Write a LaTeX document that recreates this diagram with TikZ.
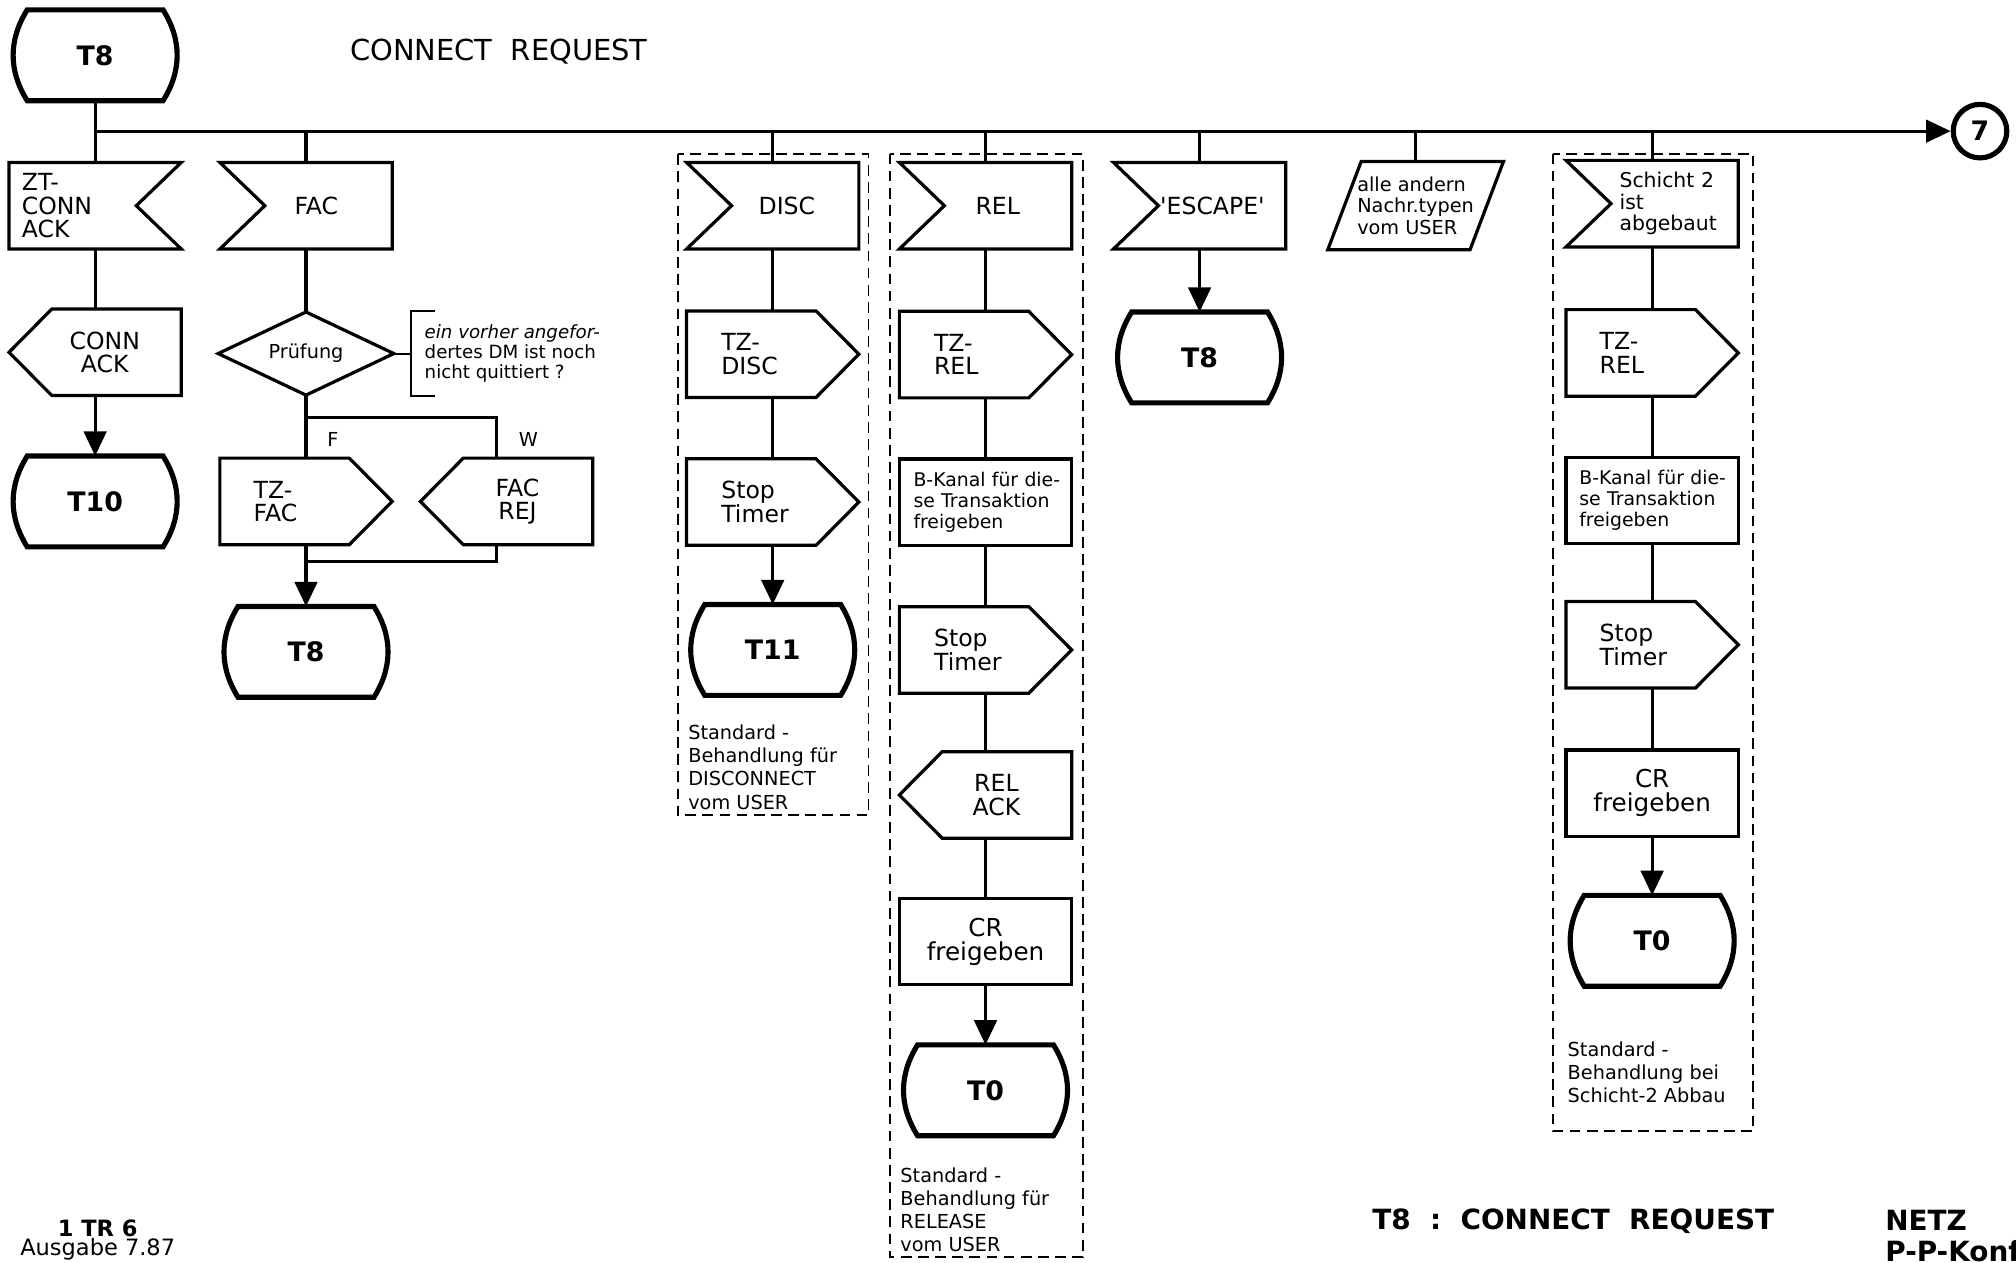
\documentclass[tikz,border=0pt]{standalone}
\usepackage{fontspec}
\setmainfont{DejaVu Sans}
\usetikzlibrary{arrows.meta}

\tikzset{
  ln/.style={line width=1.5pt},
  tl/.style={line width=2.4pt},
  fl/.style={ln, -{Triangle[length=11.5pt,width=10.5pt]}},
  grp/.style={line width=0.9pt, dash pattern=on 5pt off 3pt},
  blk/.style={rectangle, minimum width=80pt, minimum height=40pt, inner sep=0pt,
    text width=76pt, font=\fontsize{11}{11}\selectfont},
  lft/.style={blk, align=left,
    execute at begin node={\leftskip=#1\hyphenpenalty=10000\exhyphenpenalty=10000}},
  ctr/.style={blk, align=center,
    execute at begin node={\leftskip=#1 plus 1fil\rightskip=0pt plus 1fil\parfillskip=0pt
      \hyphenpenalty=10000\exhyphenpenalty=10000}},
  term/.style={rectangle, minimum width=63pt, minimum height=42pt, inner sep=0pt,
    font=\bfseries\fontsize{12.5}{13}\selectfont},
  sml/.style={font=\fontsize{8.8}{9.8}\selectfont},
  note/.style={anchor=north west, inner sep=0pt, align=left, font=\fontsize{9}{10.8}\selectfont},
  hdr/.style={anchor=west, inner sep=0pt, font=\bfseries\fontsize{13}{15}\selectfont},
}

\begin{document}
\begin{tikzpicture}[x=0.6pt,y=-0.6pt]
  \path[use as bounding box, fill=white] (0,0) rectangle (1568,982);

  % Kopf
  \node[term] (tA) at (74,43) {T8};
  \node[hdr, font=\fontsize{13.5}{15}\selectfont] (ttl) at (272,40) {CONNECT\ \ REQUEST};
  \coordinate (bus) at (74,102);
  \node[draw, circle, tl, minimum size=25pt, inner sep=0pt,
    font=\bfseries\fontsize{12.5}{13}\selectfont] (c7) at (1540,102) {7};

  % Spalte ZT-CONN ACK
  \node[lft=3.8pt] (ztc) at (74,160) {ZT-\\CONN\\ACK};
  \node[ctr=9pt] (cack) at (74,274) {CONN\\ACK};
  \node[term] (t10) at (74,390) {T10};

  % Spalte FAC
  \node[ctr=9.6pt] (fac) at (238,160) {FAC};
  \node[rectangle, minimum width=81.6pt, minimum height=38.4pt, inner sep=0pt,
    font=\fontsize{9}{10}\selectfont] (pr) at (238,275) {Prüfung};
  \node[rectangle, anchor=west, inner xsep=6pt, inner ysep=0pt, minimum height=39.6pt,
    align=left, font=\fontsize{8.5}{9.4}\selectfont] (cm) at (320,275)
    {\itshape ein vorher angefor-\\dertes DM ist noch\\nicht quittiert ?};
  \coordinate (br) at (238,325);
  \node[font=\fontsize{9}{10}\selectfont] (lF) at (259,342) {F};
  \node[font=\fontsize{9}{10}\selectfont] (lW) at (411,342) {W};
  \node[lft=13.6pt] (tzf) at (238,390) {TZ-\\FAC};
  \node[ctr=10.2pt] (frj) at (394,390) {FAC\\REJ};
  \coordinate (mg) at (238,437);
  \node[term] (tB) at (238,507) {T8};

  % Spalte DISC
  \node[ctr=13.2pt] (disc) at (601,160) {DISC};
  \node[lft=14pt] (tzd) at (601,275.5) {TZ-\\DISC};
  \node[lft=14pt] (std) at (601,390.5) {Stop\\Timer};
  \node[term] (t11) at (601,505.5) {T11};
  \node[note] (nD) at (535,563.5) {Standard -\\Behandlung für\\DISCONNECT\\vom USER};

  % Spalte REL
  \node[ctr=11.4pt] (rel) at (766.5,160) {REL};
  \node[lft=14pt] (tzr) at (766.5,275.8) {TZ-\\REL};
  \node[lft=4.4pt, sml] (bkr) at (766.5,390.6) {B-Kanal für die-\\se Transaktion\\freigeben};
  \node[lft=14pt] (str) at (766.5,505.5) {Stop\\Timer};
  \node[ctr=10.2pt] (rak) at (766.5,618.3) {REL\\ACK};
  \node[ctr=0pt, font=\fontsize{11.5}{11.3}\selectfont] (crr) at (766.5,732.3) {CR\\freigeben};
  \node[term] (t0r) at (766.5,848) {T0};
  \node[note] (nR) at (700,908) {Standard -\\Behandlung für\\RELEASE\\vom USER};

  % Spalte 'ESCAPE'
  \node[ctr=12pt] (esc) at (933,160) {\textquotesingle ESCAPE\textquotesingle};
  \node[term] (t8e) at (933,278) {T8};

  % alle andern
  \node[rectangle, minimum width=81.6pt, minimum height=40.8pt, inner sep=0pt, align=left,
    font=\fontsize{9}{10.2}\selectfont] (par) at (1101,160) {alle andern\\Nachr.typen\\vom USER};

  % Spalte Schicht 2
  \node[lft=22.8pt, font=\fontsize{9.5}{10}\selectfont] (sch) at (1285,158.4) {Schicht~2\\ist\\abgebaut};
  \node[lft=13.5pt] (tzs) at (1285,274.5) {TZ-\\REL};
  \node[lft=4pt, sml] (bks) at (1285,389.3) {B-Kanal für die-\\se Transaktion\\freigeben};
  \node[lft=13.5pt] (sts) at (1285,501.5) {Stop\\Timer};
  \node[ctr=0pt, font=\fontsize{11.5}{11.3}\selectfont] (crs) at (1285,617) {CR\\freigeben};
  \node[term] (t0s) at (1285,731.7) {T0};
  \node[note] (nS) at (1219,809.6) {Standard -\\Behandlung bei\\Schicht-2 Abbau};

  % Fuss
  \node[inner sep=0pt, font=\bfseries\fontsize{10.5}{12}\selectfont] (fA) at (76,955) {1 TR 6};
  \node[inner sep=0pt, font=\fontsize{10.5}{12}\selectfont] (fB) at (76,972) {Ausgabe 7.87};
  \node[hdr] (fC) at (1067,950) {T8\ \ :\ \ CONNECT\ \ REQUEST};
  \node[hdr] (fD) at (1466,949) {NETZ};
  \node[hdr] (fE) at (1466,973) {P-P-Konf};

  % Umrisse
  \foreach \n in {tA,t10,tB,t11,t8e,t0r,t0s}
    \draw[tl] (\n.north west) -- (\n.north east) to[bend left=32] (\n.south east)
      -- (\n.south west) to[bend left=32] (\n.north west) -- cycle;
  \foreach \n in {fac,disc,rel,esc,sch}
    \draw[ln] (\n.north west) -- (\n.north east) -- (\n.south east)
      -- (\n.south west) -- ([xshift=21pt]\n.west) -- cycle;
  \draw[ln] (ztc.north west) -- (ztc.north east) -- ([xshift=-21pt]ztc.east)
    -- (ztc.south east) -- (ztc.south west) -- cycle;
  \foreach \n in {tzf,tzd,std,tzr,str,tzs,sts}
    \draw[ln] (\n.north west) -- ([xshift=-20pt]\n.north east) -- (\n.east)
      -- ([xshift=-20pt]\n.south east) -- (\n.south west) -- cycle;
  \foreach \n in {cack,frj,rak}
    \draw[ln] (\n.west) -- ([xshift=20pt]\n.north west) -- (\n.north east)
      -- (\n.south east) -- ([xshift=20pt]\n.south west) -- cycle;
  \foreach \n in {bkr,crr,bks,crs}
    \draw[ln] (\n.north west) rectangle (\n.south east);
  \draw[ln] (pr.north) -- (pr.east) -- (pr.south) -- (pr.west) -- cycle;
  \draw[ln] ([xshift=15.6pt]par.north west) -- (par.north east)
    -- ([xshift=-15.6pt]par.south east) -- (par.south west) -- cycle;

  % Gruppen
  \draw[grp] (527,120) rectangle (675.5,634);
  \draw[grp] (692.5,119.5) rectangle (842,978);
  \draw[grp] (1208,119.5) rectangle (1363.5,880);

  % Verbindungen
  \draw[ln] (tA) -- (bus);
  \draw[fl] (bus) -- (c7);
  \draw[ln] (bus) -- (ztc);
  \foreach \n in {fac,disc,rel,esc,par,sch}
    \draw[ln] (\n.north |- bus) -- (\n);
  \foreach \a/\b in {ztc/cack,fac/pr,pr/tzf,disc/tzd,tzd/std,rel/tzr,tzr/bkr,bkr/str,
      str/rak,rak/crr,sch/tzs,tzs/bks,bks/sts,sts/crs}
    \draw[ln] (\a) -- (\b);
  \foreach \a/\b in {cack/t10,tzf/tB,std/t11,crr/t0r,esc/t8e,crs/t0s}
    \draw[fl] (\a) -- (\b);
  \draw[ln] (br) -| ([xshift=-4.8pt]frj.north);
  \draw[ln] ([xshift=-4.8pt]frj.south) |- (mg);
  \draw[line width=0.9pt] (pr) -- (cm);
  \draw[line width=0.9pt] ([xshift=10.8pt]cm.north west) -- (cm.north west)
    -- (cm.south west) -- ([xshift=10.8pt]cm.south west);
\end{tikzpicture}
\end{document}
